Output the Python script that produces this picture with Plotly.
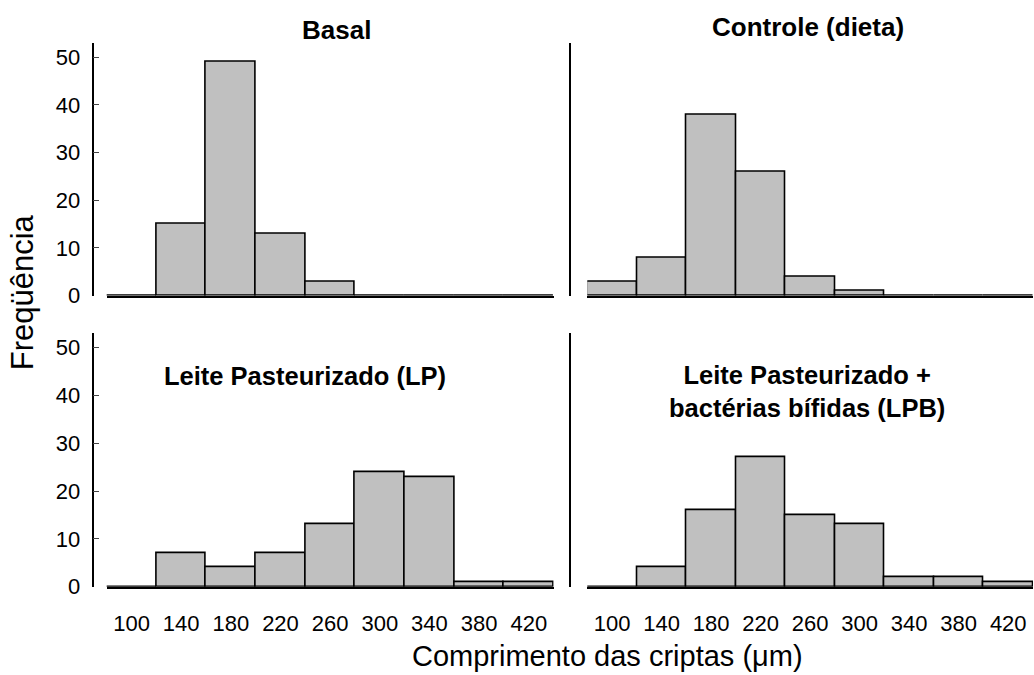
import plotly.graph_objects as go

bins = [100, 140, 180, 220, 260, 300, 340, 380, 420]
tick_labels = ["100", "140", "180", "220", "260", "300", "340", "380", "420"]
basal = [0, 15, 49, 13, 3, 0, 0, 0, 0]
controle = [3, 8, 38, 26, 4, 1, 0, 0, 0]
lp = [0, 7, 4, 7, 13, 24, 23, 1, 1]
lpb = [0, 4, 16, 27, 15, 13, 2, 2, 1]

panel_titles = ["<b>Basal</b>", "<b>Controle (dieta)</b>",
                "<b>Leite Pasteurizado (LP)</b>",
                "<b>Leite Pasteurizado +<br>bactérias bífidas (LPB)</b>"]
x_title = "Comprimento das criptas (μm)"
y_title = "Freqüência"

W, H = 1034, 675
FONT = "Arial, 'Liberation Sans', sans-serif"

def px(x):
    return x / W

def py(y):
    return 1 - y / H

xdom = {"L": [px(106.7), px(553.6)], "R": [px(587.3), px(1033)]}
ydom = {"T": [py(301.5), py(43.6)], "B": [py(598.3), py(339.7)]}
ypos = {"L": px(92.5), "R": px(570)}

panels = [
    (basal, "L", "T", 1),
    (controle, "R", "T", 2),
    (lp, "L", "B", 3),
    (lpb, "R", "B", 4),
]

fig = go.Figure()
layout = dict(
    width=W, height=H,
    margin=dict(l=0, r=0, t=0, b=0),
    paper_bgcolor="white", plot_bgcolor="white",
    showlegend=False,
    font=dict(family=FONT, color="black", size=22),
    bargap=0,
)

for data, col, row, i in panels:
    xa = "x" if i == 1 else f"x{i}"
    ya = "y" if i == 1 else f"y{i}"
    fig.add_trace(go.Bar(
        x=bins, y=data, width=40, xaxis=xa, yaxis=ya,
        marker=dict(color="#c0c0c0", line=dict(color="black", width=1.6)),
        hoverinfo="x+y",
    ))
    bottom = row == "B"
    left = col == "L"
    layout[f"xaxis{'' if i == 1 else i}"] = dict(
        domain=xdom[col], anchor=ya, range=[80, 440],
        showline=True, linecolor="black", linewidth=2,
        showgrid=False, zeroline=False, ticks="",
        tickvals=bins, ticktext=tick_labels,
        showticklabels=bottom, tickfont=dict(size=22),
        ticklabelstandoff=16,
    )
    layout[f"yaxis{'' if i == 1 else i}"] = dict(
        domain=ydom[row], anchor="free", position=ypos[col],
        range=[0, 53],
        showline=True, linecolor="black", linewidth=1.5,
        showgrid=False, zeroline=False,
        ticks="inside" if left else "", ticklen=6, tickcolor="#444", tickwidth=1,
        tickvals=[0, 10, 20, 30, 40, 50],
        showticklabels=left, tickfont=dict(size=22),
        ticklabelstandoff=7,
    )

fig.update_layout(**layout)

ann = [
    (336, 31, panel_titles[0], 26),
    (808, 28, panel_titles[1], 26),
    (305, 383, panel_titles[2], 25.5),
    (807, 399, panel_titles[3], 25.5),
]
for x, y, t, s in ann:
    fig.add_annotation(x=px(x), y=py(y), xref="paper", yref="paper",
                       text=t, showarrow=False, xanchor="center", yanchor="middle",
                       font=dict(size=s, family=FONT))

fig.add_annotation(x=px(607), y=py(669), xref="paper", yref="paper",
                   text=x_title, showarrow=False, xanchor="center", yanchor="middle",
                   font=dict(size=29, family=FONT))
fig.add_annotation(x=px(22), y=py(298), xref="paper", yref="paper",
                   text=y_title, showarrow=False, textangle=-90,
                   xanchor="center", yanchor="middle",
                   font=dict(size=31, family=FONT))

fig.write_html("out.html")
